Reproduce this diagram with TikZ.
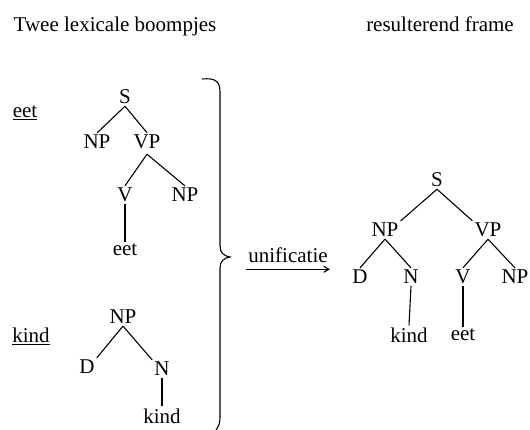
\documentclass[tikz,border=0pt]{standalone}
\usepackage{fontspec}
\setmainfont{Liberation Serif}
\usetikzlibrary{arrows.meta}
\begin{document}
\begin{tikzpicture}[x=1pt,y=-1pt,
  every node/.style={font=\fontsize{21}{25}\selectfont, inner sep=2pt},
  edge/.style={line width=1.1pt},
  brace/.style={line width=1.1pt},
  arr/.style={line width=1.1pt,-{Straight Barb[length=5pt,width=6pt]}}]
\useasboundingbox (0,0) rectangle (530,430);
% headers
\node[anchor=base] (h1) at (115,32) {Twee lexicale boompjes};
\node[anchor=base] (h2) at (440,32) {resulterend frame};
% tree 1
\node (lab1) at (25,113) {\underline{eet}};
\node (S1) at (125,97) {S};
\node (NPa) at (97,142) {NP};
\node (VPa) at (147,142) {VP};
\node (Va) at (125,195) {V};
\node (NPb) at (185,195) {NP};
\node (eet1) at (125,250) {eet};
\draw[edge] (S1.south) -- (NPa.north);
\draw[edge] (S1.south) -- (VPa.north);
\draw[edge] ([yshift=-3pt]VPa.south) -- (Va.north);
\draw[edge] ([yshift=-3pt]VPa.south) -- (NPb.north);
\draw[edge] (Va.south) -- (eet1.north);
% tree 2
\node (lab2) at (31,336) {\underline{kind}};
\node (NPk) at (123,317) {NP};
\node (Dk) at (87,367) {D};
\node (Nk) at (162,369) {N};
\node (kind1) at (162,416) {kind};
\draw[edge] (NPk.south) -- (Dk.north east);
\draw[edge] (NPk.south) -- (Nk.north west);
\draw[edge] (Nk.south) -- (kind1.north);
% brace
\draw[brace] (202,79) .. controls (214,78) and (220,80) .. (220,92)
  -- (220,246) .. controls (220,253) and (224,256) .. (230,257)
  .. controls (224,258) and (220,261) .. (220,268)
  -- (220,418) .. controls (220,424) and (218,427) .. (216,430);
% unification arrow
\node (unif) at (288,255) {unificatie};
\draw[arr] ([yshift=-7pt]unif.base west) -- ([yshift=-7pt]unif.base east);
% resulting tree
\node (S2) at (437,180) {S};
\node (NP2) at (385,230) {NP};
\node (VP2) at (488,230) {VP};
\node (D2) at (360,277) {D};
\node (N2) at (411,277) {N};
\node (V2) at (463,277) {V};
\node (NP3) at (515,277) {NP};
\node (kind2) at (409,335) {kind};
\node (eet2) at (463,335) {eet};
\draw[edge] (S2.south) -- (NP2.north east);
\draw[edge] (S2.south) -- (VP2.north west);
\draw[edge] (NP2.south) -- (D2.north);
\draw[edge] (NP2.south) -- (N2.north);
\draw[edge] (VP2.south) -- (V2.north);
\draw[edge] (VP2.south) -- (NP3.north);
\draw[edge] (N2.south) -- (kind2.north);
\draw[edge] (V2.south) -- (eet2.north);
\end{tikzpicture}
\end{document}
